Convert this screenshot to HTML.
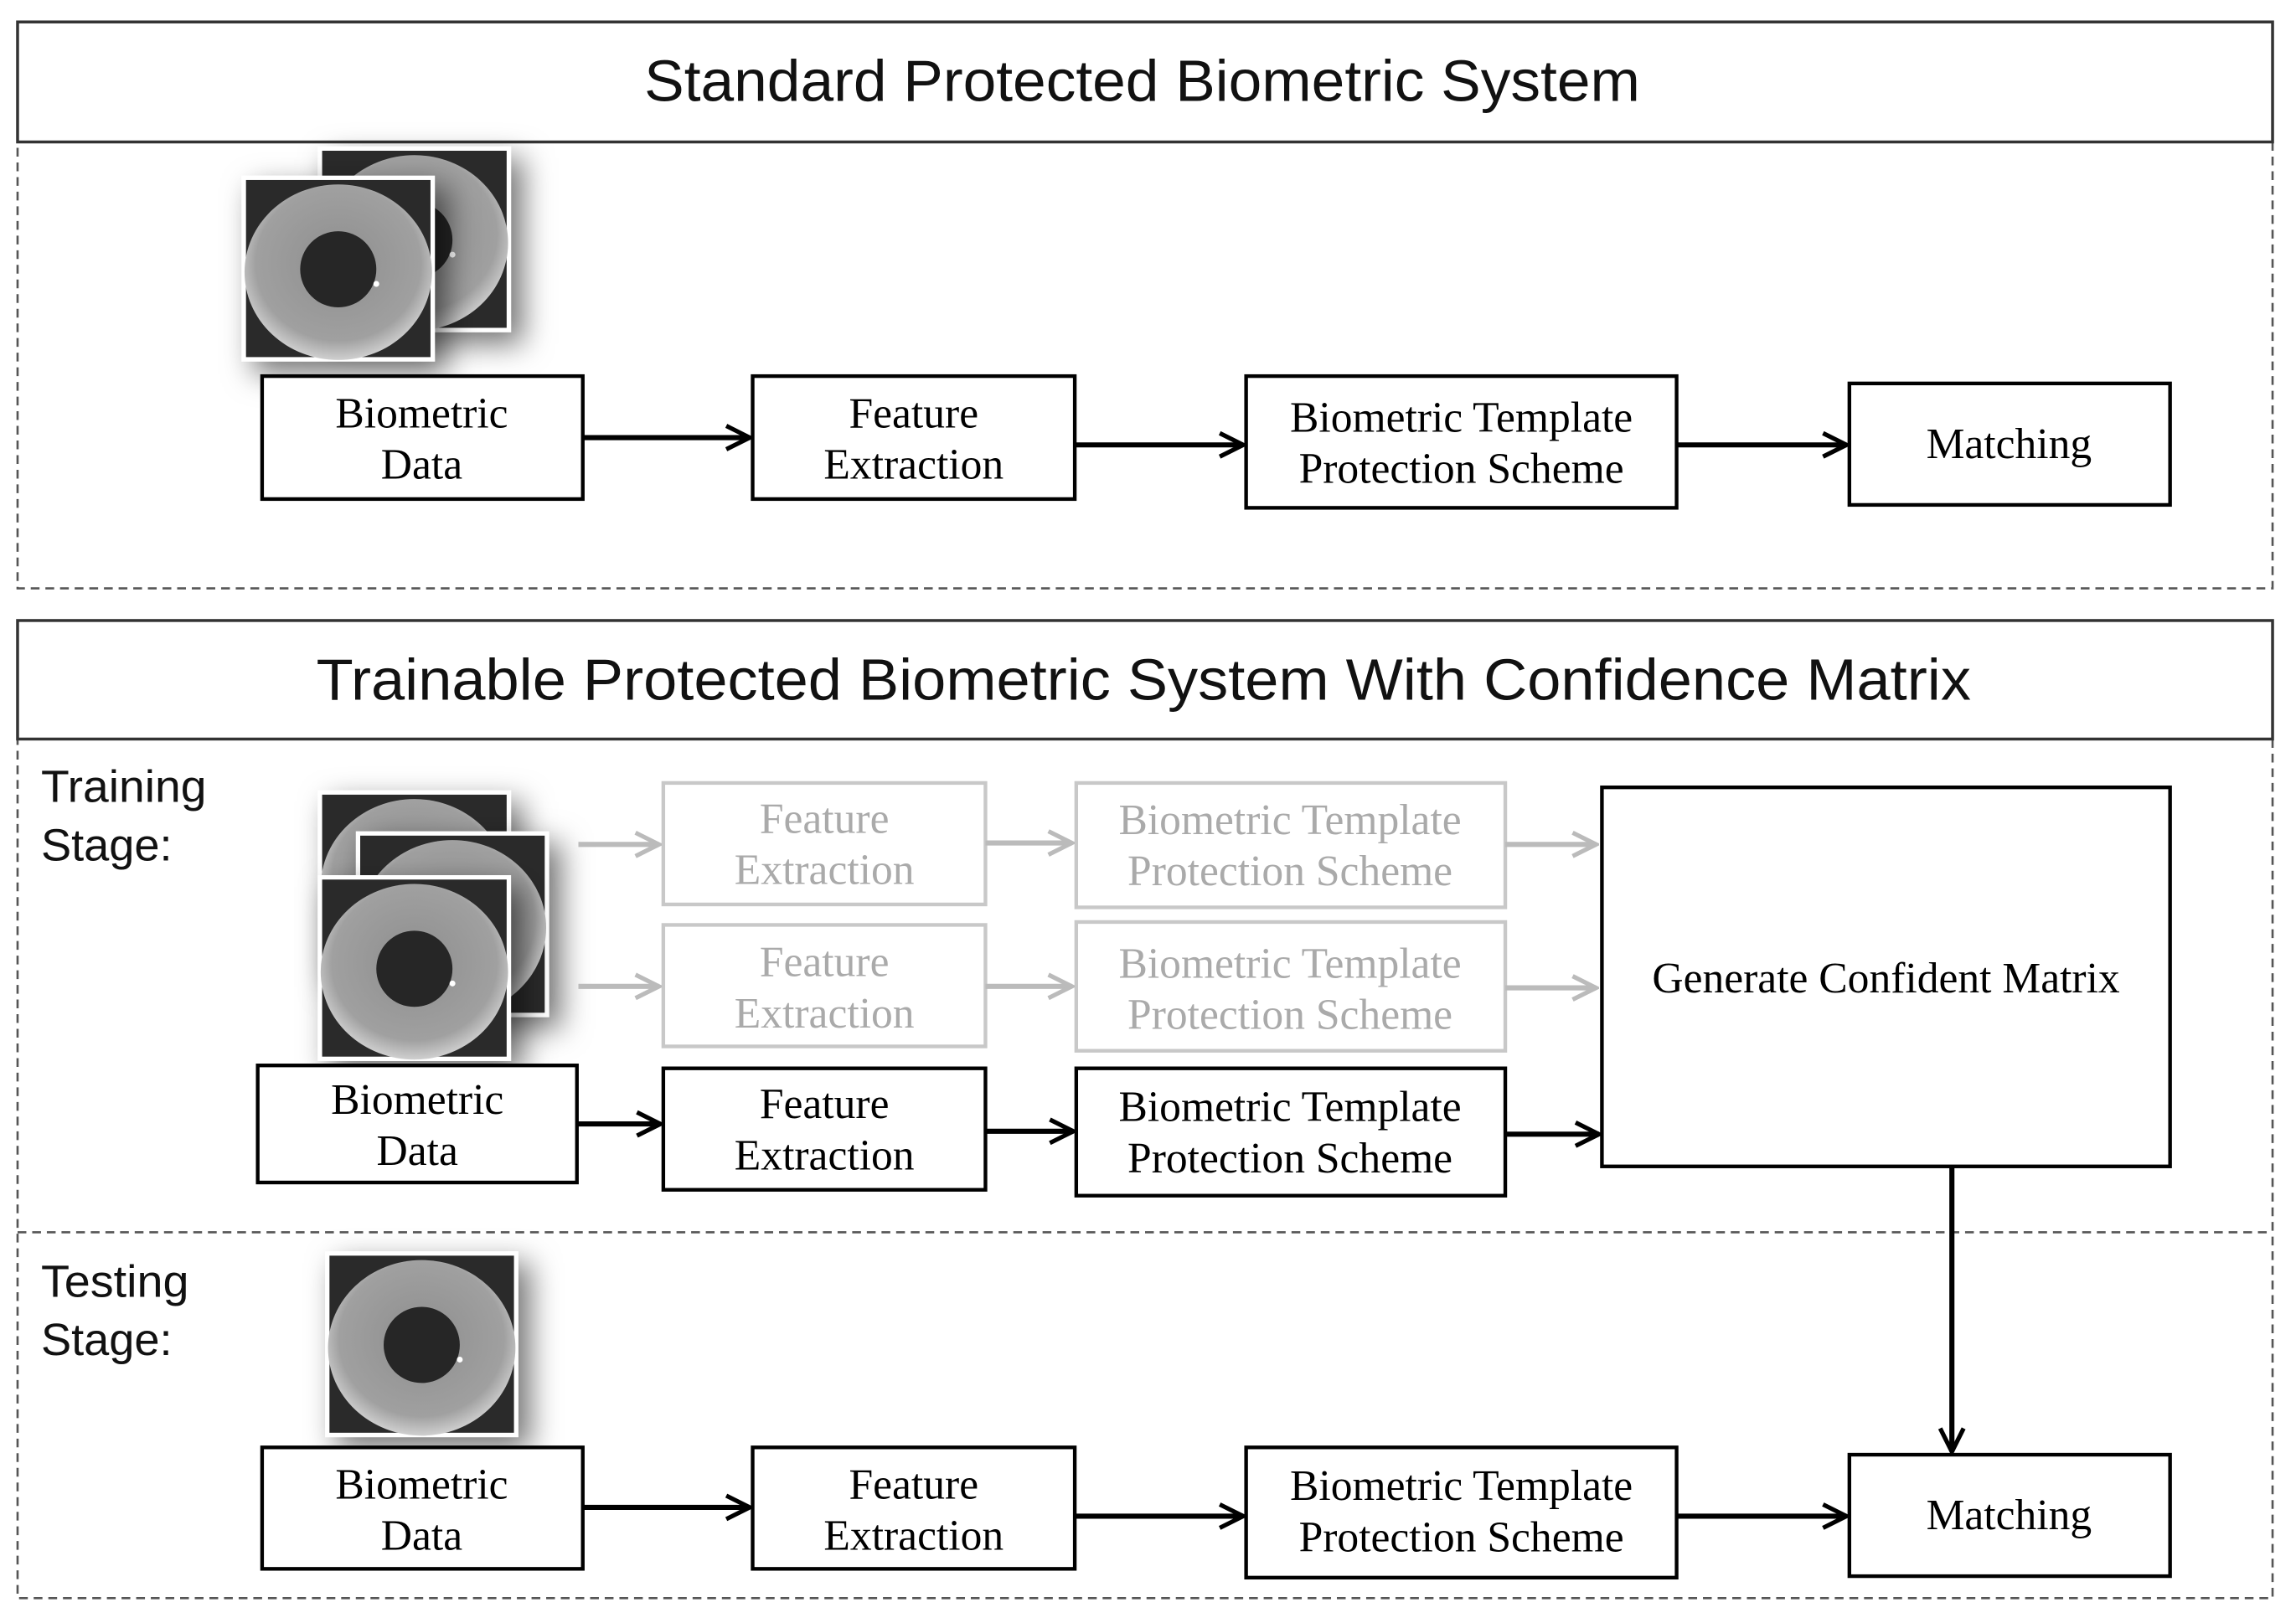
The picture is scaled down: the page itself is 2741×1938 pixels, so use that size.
<!DOCTYPE html>
<html><head><meta charset="utf-8"><style>
html,body{margin:0;padding:0;background:#fff;}
svg{display:block}
.s{font-family:"Liberation Sans",sans-serif;}
.r{font-family:"Liberation Serif",serif;font-size:29.5px;text-anchor:middle;}
</style></head><body>
<svg width="2741" height="1938" viewBox="0 0 1568 1109" preserveAspectRatio="none" xmlns="http://www.w3.org/2000/svg">
<defs>
<radialGradient id="iris" cx="50%" cy="45%" r="55%">
<stop offset="0" stop-color="#8e8e8e"/><stop offset="0.8" stop-color="#a0a0a0"/><stop offset="1" stop-color="#cfcfcf"/></radialGradient>
<filter id="sh" x="-30%" y="-30%" width="170%" height="170%"><feDropShadow dx="8" dy="8" stdDeviation="10" flood-color="#000" flood-opacity="0.55"/></filter>
<marker id="a2" viewBox="0 0 20 20" markerWidth="20" markerHeight="20" refX="18" refY="10" orient="auto" markerUnits="userSpaceOnUse"><path d="M2,2 L18,10 L2,18" fill="none" stroke="#000" stroke-width="3"/></marker>
<marker id="g2" viewBox="0 0 20 20" markerWidth="20" markerHeight="20" refX="18" refY="10" orient="auto" markerUnits="userSpaceOnUse"><path d="M2,2 L18,10 L2,18" fill="none" stroke="#bbb" stroke-width="3"/></marker>
<g id="eye">
<rect x="0" y="0" width="132" height="127" fill="#fff" filter="url(#sh)"/>
<rect x="3" y="3" width="126" height="121" fill="#2a2a2a"/>
<ellipse cx="66" cy="66" rx="64" ry="60" fill="url(#iris)"/>
<circle cx="66" cy="64" r="26" fill="#262626"/>
<circle cx="92" cy="74" r="2" fill="#fff"/>
</g>
</defs>
<rect width="1568" height="1109" fill="#fff"/>
<rect x="12" y="97" width="1540" height="305" fill="none" stroke="#555" stroke-width="1.5" stroke-dasharray="6,4"/>
<rect x="12" y="15" width="1540" height="82" fill="#fff" stroke="#333" stroke-width="2"/>
<text class="s" x="440" y="69" font-size="40" textLength="680" lengthAdjust="spacingAndGlyphs" fill="#111">Standard Protected Biometric System</text>
<use href="#eye" x="217" y="100"/>
<use href="#eye" x="165" y="120"/>
<g fill="#fff" stroke="#000" stroke-width="2.5">
<rect x="179" y="257" width="219" height="84"/>
<rect x="514" y="257" width="220" height="84"/>
<rect x="851" y="257" width="294" height="90"/>
<rect x="1263" y="262" width="219" height="83"/>
</g>
<g class="r" fill="#000">
<text x="288" y="292">Biometric</text><text x="288" y="327">Data</text>
<text x="624" y="292">Feature</text><text x="624" y="327">Extraction</text>
<text x="998" y="295">Biometric Template</text><text x="998" y="330">Protection Scheme</text>
<text x="1372" y="313">Matching</text>
</g>
<g stroke="#000" stroke-width="3.5">
<line x1="398" y1="299" x2="512" y2="299" marker-end="url(#a2)"/>
<line x1="734" y1="304" x2="849" y2="304" marker-end="url(#a2)"/>
<line x1="1145" y1="304" x2="1261" y2="304" marker-end="url(#a2)"/>
</g>
<rect x="12" y="505" width="1540" height="587" fill="none" stroke="#555" stroke-width="1.5" stroke-dasharray="6,4"/>
<line x1="12" y1="842" x2="1552" y2="842" stroke="#555" stroke-width="1.5" stroke-dasharray="6,4"/>
<rect x="12" y="424" width="1540" height="81" fill="#fff" stroke="#333" stroke-width="2"/>
<text class="s" x="216" y="478" font-size="40" textLength="1130" lengthAdjust="spacingAndGlyphs" fill="#111">Trainable Protected Biometric System With Confidence Matrix</text>
<g class="s" font-size="31" fill="#111">
<text x="28" y="548" textLength="113" lengthAdjust="spacingAndGlyphs">Training</text><text x="28" y="588">Stage:</text>
<text x="28" y="886" textLength="101" lengthAdjust="spacingAndGlyphs">Testing</text><text x="28" y="926">Stage:</text>
</g>
<use href="#eye" x="217" y="540"/>
<use href="#eye" x="243" y="568"/>
<use href="#eye" x="217" y="598"/>
<use href="#eye" x="222" y="855"/>
<g fill="#fff" stroke="#c8c8c8" stroke-width="2.5">
<rect x="453" y="535" width="220" height="83"/>
<rect x="735" y="535" width="293" height="85"/>
<rect x="453" y="632" width="220" height="83"/>
<rect x="735" y="630" width="293" height="88"/>
</g>
<g class="r" fill="#aaa">
<text x="563" y="569">Feature</text><text x="563" y="604">Extraction</text>
<text x="881" y="570">Biometric Template</text><text x="881" y="605">Protection Scheme</text>
<text x="563" y="667">Feature</text><text x="563" y="702">Extraction</text>
<text x="881" y="668">Biometric Template</text><text x="881" y="703">Protection Scheme</text>
</g>
<g stroke="#bbb" stroke-width="3.5">
<line x1="395" y1="577" x2="450" y2="577" marker-end="url(#g2)"/>
<line x1="673" y1="576" x2="732" y2="576" marker-end="url(#g2)"/>
<line x1="1028" y1="577" x2="1090" y2="577" marker-end="url(#g2)"/>
<line x1="395" y1="674" x2="450" y2="674" marker-end="url(#g2)"/>
<line x1="673" y1="674" x2="732" y2="674" marker-end="url(#g2)"/>
<line x1="1028" y1="675" x2="1090" y2="675" marker-end="url(#g2)"/>
</g>
<g fill="#fff" stroke="#000" stroke-width="2.5">
<rect x="176" y="728" width="218" height="80"/>
<rect x="453" y="730" width="220" height="83"/>
<rect x="735" y="730" width="293" height="87"/>
<rect x="1094" y="538" width="388" height="259"/>
</g>
<g class="r" fill="#000">
<text x="285" y="761">Biometric</text><text x="285" y="796">Data</text>
<text x="563" y="764">Feature</text><text x="563" y="799">Extraction</text>
<text x="881" y="766">Biometric Template</text><text x="881" y="801">Protection Scheme</text>
<text x="1288" y="678">Generate Confident Matrix</text>
</g>
<g stroke="#000" stroke-width="3.5">
<line x1="394" y1="768" x2="451" y2="768" marker-end="url(#a2)"/>
<line x1="673" y1="773" x2="733" y2="773" marker-end="url(#a2)"/>
<line x1="1028" y1="775" x2="1092" y2="775" marker-end="url(#a2)"/>
<line x1="1333" y1="797" x2="1333" y2="992" marker-end="url(#a2)"/>
</g>
<g fill="#fff" stroke="#000" stroke-width="2.5">
<rect x="179" y="989" width="219" height="83"/>
<rect x="514" y="989" width="220" height="83"/>
<rect x="851" y="989" width="294" height="89"/>
<rect x="1263" y="994" width="219" height="83"/>
</g>
<g class="r" fill="#000">
<text x="288" y="1024">Biometric</text><text x="288" y="1059">Data</text>
<text x="624" y="1024">Feature</text><text x="624" y="1059">Extraction</text>
<text x="998" y="1025">Biometric Template</text><text x="998" y="1060">Protection Scheme</text>
<text x="1372" y="1045">Matching</text>
</g>
<g stroke="#000" stroke-width="3.5">
<line x1="398" y1="1030" x2="512" y2="1030" marker-end="url(#a2)"/>
<line x1="734" y1="1036" x2="849" y2="1036" marker-end="url(#a2)"/>
<line x1="1145" y1="1036" x2="1261" y2="1036" marker-end="url(#a2)"/>
</g>
</svg>
</body></html>
